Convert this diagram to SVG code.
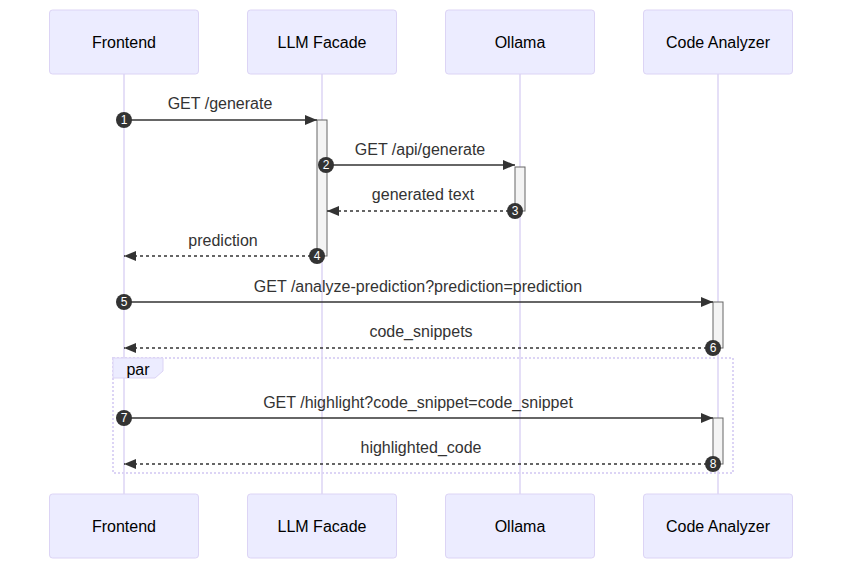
<svg xmlns="http://www.w3.org/2000/svg" width="850" height="574" viewBox="0 0 850 574">
<style>
.actor{fill:#ECECFF;stroke:#DCD4F5;stroke-width:1}
.atext{font-family:"Liberation Sans",Arial,sans-serif;font-size:16px;fill:#000;text-anchor:middle;dominant-baseline:central}
.life{stroke:#DCD4F5;stroke-width:1.5}
.msg{stroke:#333;stroke-width:1.5;fill:none}
.dash{stroke-dasharray:3,3}
.mtext{font-family:"Liberation Sans",Arial,sans-serif;font-size:16px;fill:#333;text-anchor:middle}
.act{fill:#F4F4F4;stroke:#666;stroke-width:1}
.seq{fill:#333}
.seqt{font-family:"Liberation Sans",Arial,sans-serif;font-size:12px;fill:#fff;text-anchor:middle;dominant-baseline:central}
.loop{fill:none;stroke:#DCD4F5;stroke-width:2;stroke-dasharray:2,2}
.ltext{font-family:"Liberation Sans",Arial,sans-serif;font-size:16px;fill:#000;text-anchor:middle;dominant-baseline:central}
</style>
<defs>
<marker id="arrow" viewBox="0 0 12 10" refX="12" refY="5" markerWidth="12" markerHeight="10" markerUnits="userSpaceOnUse" orient="auto">
<path d="M0,0 L12,5 L0,10 z" fill="#333"/>
</marker>
</defs>
<g id="lifelines">
<line class="life" x1="124" y1="74" x2="124" y2="494"/>
<line class="life" x1="322" y1="74" x2="322" y2="494"/>
<line class="life" x1="520" y1="74" x2="520" y2="494"/>
<line class="life" x1="718" y1="74" x2="718" y2="494"/>
</g>
<g id="actor-frontend-top"><rect class="actor" x="49.5" y="10" width="149" height="64" rx="3"/><text class="atext" x="124" y="42">Frontend</text></g>
<g id="actor-llm-top"><rect class="actor" x="247.5" y="10" width="149" height="64" rx="3"/><text class="atext" x="322" y="42">LLM Facade</text></g>
<g id="actor-ollama-top"><rect class="actor" x="445.5" y="10" width="149" height="64" rx="3"/><text class="atext" x="520" y="42">Ollama</text></g>
<g id="actor-analyzer-top"><rect class="actor" x="643.5" y="10" width="149" height="64" rx="3"/><text class="atext" x="718" y="42">Code Analyzer</text></g>
<g id="actor-frontend-bottom"><rect class="actor" x="49.5" y="494" width="149" height="64" rx="3"/><text class="atext" x="124" y="526">Frontend</text></g>
<g id="actor-llm-bottom"><rect class="actor" x="247.5" y="494" width="149" height="64" rx="3"/><text class="atext" x="322" y="526">LLM Facade</text></g>
<g id="actor-ollama-bottom"><rect class="actor" x="445.5" y="494" width="149" height="64" rx="3"/><text class="atext" x="520" y="526">Ollama</text></g>
<g id="actor-analyzer-bottom"><rect class="actor" x="643.5" y="494" width="149" height="64" rx="3"/><text class="atext" x="718" y="526">Code Analyzer</text></g>
<g id="activations">
<rect class="act" x="317" y="120" width="10" height="136"/>
<rect class="act" x="515" y="167" width="10" height="44"/>
<rect class="act" x="713" y="302" width="10" height="46"/>
<rect class="act" x="713" y="418" width="10" height="46"/>
</g>
<g id="par-block">
<rect class="loop" x="113" y="358" width="620" height="115"/>
<path d="M113,358 L163,358 L163,371 L155,378 L113,378 z" fill="#ECECFF" stroke="#DCD4F5" stroke-width="1"/>
<text class="ltext" x="138" y="369">par</text>
</g>
<g id="connectors">
<line class="msg" x1="124" y1="120" x2="317" y2="120" marker-end="url(#arrow)"/>
<text class="mtext" x="220" y="109">GET /generate</text>
<line class="msg" x1="327" y1="165" x2="515" y2="165" marker-end="url(#arrow)"/>
<text class="mtext" x="420" y="155">GET /api/generate</text>
<line class="msg dash" x1="515" y1="211" x2="327" y2="211" marker-end="url(#arrow)"/>
<text class="mtext" x="423" y="200">generated text</text>
<line class="msg dash" x1="317" y1="256" x2="124" y2="256" marker-end="url(#arrow)"/>
<text class="mtext" x="223" y="246">prediction</text>
<line class="msg" x1="124" y1="302" x2="713" y2="302" marker-end="url(#arrow)"/>
<text class="mtext" x="418" y="292">GET /analyze-prediction?prediction=prediction</text>
<line class="msg dash" x1="713" y1="348" x2="124" y2="348" marker-end="url(#arrow)"/>
<text class="mtext" x="421" y="337">code_snippets</text>
<line class="msg" x1="124" y1="418" x2="713" y2="418" marker-end="url(#arrow)"/>
<text class="mtext" x="418" y="408">GET /highlight?code_snippet=code_snippet</text>
<line class="msg dash" x1="713" y1="464" x2="124" y2="464" marker-end="url(#arrow)"/>
<text class="mtext" x="421" y="453">highlighted_code</text>
</g>
<g id="sequence-numbers">
<circle class="seq" cx="124" cy="120" r="8"/><text class="seqt" x="124" y="120">1</text>
<circle class="seq" cx="326" cy="165" r="8"/><text class="seqt" x="326" y="165">2</text>
<circle class="seq" cx="515" cy="211" r="8"/><text class="seqt" x="515" y="211">3</text>
<circle class="seq" cx="317" cy="256" r="8"/><text class="seqt" x="317" y="256">4</text>
<circle class="seq" cx="124" cy="302" r="8"/><text class="seqt" x="124" y="302">5</text>
<circle class="seq" cx="713" cy="348" r="8"/><text class="seqt" x="713" y="348">6</text>
<circle class="seq" cx="124" cy="418" r="8"/><text class="seqt" x="124" y="418">7</text>
<circle class="seq" cx="713" cy="464" r="8"/><text class="seqt" x="713" y="464">8</text>
</g>
</svg>
